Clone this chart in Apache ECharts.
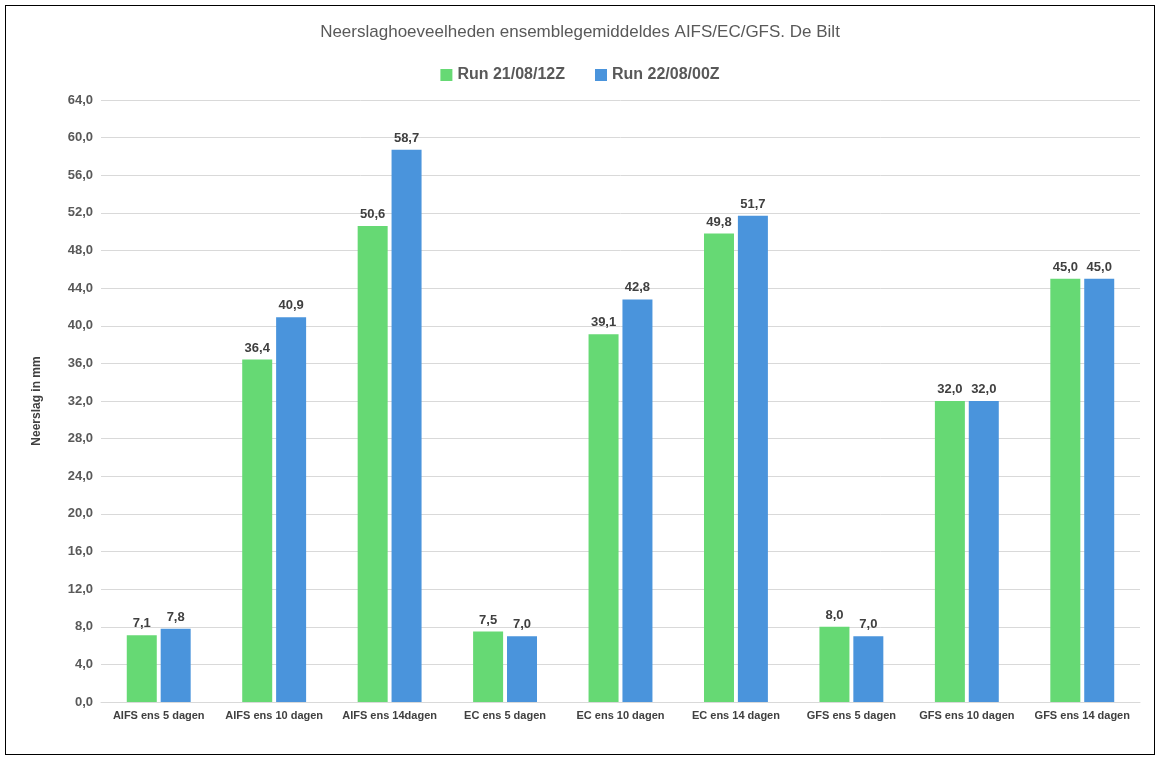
<!DOCTYPE html>
<html><head><meta charset="utf-8">
<script src="https://cdn.jsdelivr.net/npm/echarts@6/dist/echarts.min.js"></script>
<style>html,body{margin:0;padding:0;background:#fff}#wrap{position:absolute;left:5px;top:5px;width:1148px;height:748px;border:1.5px solid #000}#c{width:1148px;height:748px}</style>
</head><body><div id="wrap"><div id="c"></div></div>
<script>
const categories=["AIFS ens 5 dagen","AIFS ens 10 dagen","AIFS ens 14dagen","EC ens 5 dagen","EC ens 10 dagen","EC ens 14 dagen","GFS ens 5 dagen","GFS ens 10 dagen","GFS ens 14 dagen"];
const run1=[7.1,36.4,50.6,7.5,39.1,49.8,8.0,32.0,45.0];
const run2=[7.8,40.9,58.7,7.0,42.8,51.7,7.0,32.0,45.0];
const fmt=v=>v.toFixed(1).replace('.',',');
const lbl={show:true,position:'top',formatter:p=>fmt(p.value),fontWeight:'bold',fontSize:13,color:'#404040',fontFamily:'Liberation Sans'};
const c=echarts.init(document.getElementById('c'));
c.setOption({
 textStyle:{fontFamily:'Liberation Sans'},
 title:{text:'Neerslaghoeveelheden ensemblegemiddeldes AIFS/EC/GFS. De Bilt',left:'center',top:13,textStyle:{fontSize:17,fontWeight:'normal',color:'#595959',fontFamily:'Liberation Sans'}},
 legend:{top:56,left:'center',itemWidth:12,itemHeight:12,itemGap:30,icon:'rect',textStyle:{fontSize:16,fontWeight:'bold',color:'#595959'}},
 grid:{left:95,right:14,top:94,bottom:52},
 xAxis:{type:'category',data:categories,axisTick:{show:false},axisLine:{lineStyle:{color:'#d9d9d9'}},axisLabel:{fontSize:11,fontWeight:'bold',color:'#404040',interval:0}},
 yAxis:{type:'value',min:0,max:64,interval:4,name:'Neerslag in mm',nameLocation:'middle',nameGap:58,nameTextStyle:{fontSize:12,fontWeight:'bold',color:'#404040'},axisLabel:{formatter:v=>fmt(v),fontSize:13,fontWeight:'bold',color:'#595959'},splitLine:{lineStyle:{color:'#d9d9d9'}}},
 series:[
  {name:'Run 21/08/12Z',type:'bar',data:run1,barWidth:30,barGap:'13%',itemStyle:{color:'#66d974'},label:lbl},
  {name:'Run 22/08/00Z',type:'bar',data:run2,barWidth:30,itemStyle:{color:'#4a94dc'},label:lbl}
 ]
});
</script></body></html>
